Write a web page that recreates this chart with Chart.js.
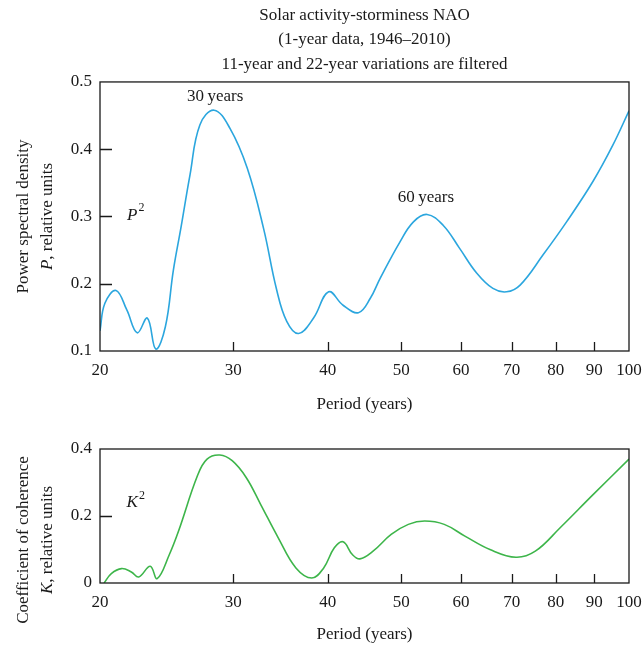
<!DOCTYPE html>
<html>
<head>
<meta charset="utf-8">
<script src="https://cdn.jsdelivr.net/npm/chart.js@4.4.0/dist/chart.umd.min.js"></script>
<style>
  html, body { margin: 0; padding: 0; background: #fff; }
  #top { position: absolute; left: 0; top: 0; width: 643px; height: 420px; }
  #bottom { position: absolute; left: 0; top: 420px; width: 643px; height: 229px; }
</style>
</head>
<body>
<div id="top"><canvas id="powerChart"></canvas></div>
<div id="bottom"><canvas id="cohChart"></canvas></div>
<script>
// shared x axis (period, log scale)
const periodTicks = [20, 30, 40, 50, 60, 70, 80, 90, 100];

// power spectral density P^2
const powerPeriods = [20.0, 20.3, 21.0, 21.7, 22.4, 23.1, 23.7, 24.4, 25.0, 25.6, 26.3, 27.1, 28.3, 29.7, 31.3, 32.9, 34.2, 35.3, 36.6, 38.3, 40.1, 41.9, 43.9, 45.5, 46.9, 49.8, 51.9, 54.1, 56.8, 59.7, 62.9, 66.1, 68.9, 71.8, 77.0, 82.7, 89.6, 95.2, 100];
const powerValues = [0.130, 0.171, 0.190, 0.161, 0.127, 0.149, 0.103, 0.136, 0.220, 0.285, 0.362, 0.436, 0.458, 0.431, 0.372, 0.282, 0.193, 0.144, 0.126, 0.149, 0.188, 0.168, 0.157, 0.178, 0.208, 0.262, 0.292, 0.303, 0.287, 0.253, 0.216, 0.193, 0.188, 0.198, 0.243, 0.292, 0.352, 0.406, 0.457];
const powerTicks = [0.1, 0.2, 0.3, 0.4, 0.5];

// coefficient of coherence K^2
const cohPeriods = [20.25, 20.7, 21.35, 22.0, 22.5, 23.3, 23.8, 24.7, 25.4, 26.9, 27.7, 28.8, 29.9, 31.2, 32.6, 34.4, 36.3, 38.1, 39.5, 40.8, 41.9, 43.1, 44.1, 45.9, 48.5, 51.1, 53.7, 57.0, 60.7, 65.5, 70.9, 75.2, 81.1, 89.3, 100];
const cohValues = [0.0, 0.028, 0.043, 0.033, 0.018, 0.05, 0.013, 0.085, 0.155, 0.32, 0.37, 0.382, 0.365, 0.315, 0.235, 0.135, 0.045, 0.015, 0.045, 0.105, 0.123, 0.085, 0.072, 0.095, 0.145, 0.175, 0.185, 0.175, 0.14, 0.10, 0.077, 0.095, 0.165, 0.26, 0.37];
const cohTicks = [0, 0.2, 0.4];

const FONT = '"Liberation Serif", "DejaVu Serif", serif';
const INK = '#1a1a1a';

// draw a line of mixed regular / italic / superscript text centred on (cx, cy)
function drawRich(ctx, parts, cx, cy, rotate) {
  ctx.save();
  ctx.translate(cx, cy);
  if (rotate) ctx.rotate(-Math.PI / 2);
  ctx.textBaseline = 'middle';
  ctx.textAlign = 'left';
  ctx.fillStyle = INK;
  const fontOf = p => (p.i ? 'italic ' : '') + (p.sup ? '12px ' : '17px ') + FONT;
  let total = 0;
  parts.forEach(p => { ctx.font = fontOf(p); total += ctx.measureText(p.t).width + (p.sup ? 1 : 0); });
  let xx = -total / 2;
  parts.forEach(p => {
    ctx.font = fontOf(p);
    if (p.sup) xx += 1;
    ctx.fillText(p.t, xx, p.sup ? -7 : 0);
    xx += ctx.measureText(p.t).width;
  });
  ctx.restore();
}

// frame, inward tick marks, y titles and notes
const decor = {
  id: 'decor',
  afterDraw(chart, args, opts) {
    const { ctx, chartArea: a, scales: { x, y } } = chart;
    ctx.save();
    ctx.strokeStyle = INK;
    ctx.lineWidth = 1.3;
    ctx.strokeRect(a.left, a.top, a.right - a.left, a.bottom - a.top);
    ctx.beginPath();
    x.ticks.forEach(t => {
      if (t.value > x.min && t.value < x.max) {
        const px = Math.round(x.getPixelForValue(t.value)) + 0.5;
        ctx.moveTo(px, a.bottom);
        ctx.lineTo(px, a.bottom - 9);
      }
    });
    y.ticks.forEach(t => {
      if (t.value > y.min && t.value < y.max) {
        const py = Math.round(y.getPixelForValue(t.value)) + 0.5;
        ctx.moveTo(a.left, py);
        ctx.lineTo(a.left + 12, py);
      }
    });
    ctx.stroke();
    ctx.restore();

    const midY = (a.top + a.bottom) / 2 + (opts.titleShift || 0);
    drawRich(ctx, opts.yTitle[0], a.left - 76, midY, true);
    drawRich(ctx, opts.yTitle[1], a.left - 52, midY, true);
    opts.notes.forEach(n => drawRich(ctx, n.parts, x.getPixelForValue(n.x), y.getPixelForValue(n.y), false));
  }
};

function buildChart(canvasId, periods, values, color, yTicks, xHeight, xTitlePad, top, extra) {
  return new Chart(document.getElementById(canvasId), {
    type: 'line',
    data: {
      datasets: [{
        data: periods.map((p, i) => ({ x: p, y: values[i] })),
        borderColor: color,
        borderWidth: 1.6,
        pointRadius: 0,
        fill: false,
        tension: 0.4
      }]
    },
    options: {
      responsive: true,
      maintainAspectRatio: false,
      animation: false,
      layout: { padding: { left: 0, right: 14, top: top, bottom: 0 } },
      scales: {
        x: {
          type: 'logarithmic',
          min: 20,
          max: 100,
          afterBuildTicks: s => { s.ticks = periodTicks.map(v => ({ value: v })); },
          afterFit: s => { s.height = xHeight; s.paddingRight = 0; s.paddingLeft = 0; },
          grid: { display: false, drawTicks: false },
          border: { display: false },
          ticks: {
            autoSkip: false, maxRotation: 0, padding: 9, color: INK,
            font: { family: FONT, size: 17 },
            callback: v => String(v)
          },
          title: {
            display: true, text: 'Period (years)', color: INK,
            font: { family: FONT, size: 17 },
            padding: { top: 0, bottom: xTitlePad }
          }
        },
        y: {
          min: yTicks[0],
          max: yTicks[yTicks.length - 1],
          afterBuildTicks: s => { s.ticks = yTicks.map(v => ({ value: v })); },
          afterFit: s => { s.width = 100; },
          grid: { display: false, drawTicks: false },
          border: { display: false },
          ticks: {
            padding: 8, color: INK,
            font: { family: FONT, size: 17 },
            callback: v => String(v)
          }
        }
      },
      plugins: extra
    },
    plugins: [decor]
  });
}

buildChart('powerChart', powerPeriods, powerValues, '#2ba6de', powerTicks, 69, 5, 0, {
  legend: { display: false },
  tooltip: { enabled: false },
  title: {
    display: true,
    fullSize: false,
    text: ['Solar activity-storminess NAO', '(1-year data, 1946\u20132010)', '11-year and 22-year variations are filtered'],
    color: INK,
    font: { family: FONT, size: 17, weight: 'normal', lineHeight: 1.45 },
    padding: { top: 3, bottom: 5 }
  },
  decor: {
    yTitle: [[{ t: 'Power spectral density' }], [{ t: 'P', i: true }, { t: ', relative units' }]],
    notes: [
      { x: 28.4, y: 0.478, parts: [{ t: '30\u2009years' }] },
      { x: 53.9, y: 0.328, parts: [{ t: '60\u2009years' }] },
      { x: 22.3, y: 0.302, parts: [{ t: 'P', i: true }, { t: '2', sup: true }] }
    ]
  }
});

buildChart('cohChart', cohPeriods, cohValues, '#3db54a', cohTicks, 66, 4, 29, {
  legend: { display: false },
  tooltip: { enabled: false },
  decor: {
    titleShift: 24,
    yTitle: [[{ t: 'Coefficient of coherence' }], [{ t: 'K', i: true }, { t: ', relative units' }]],
    notes: [
      { x: 22.3, y: 0.239, parts: [{ t: 'K', i: true }, { t: '2', sup: true }] }
    ]
  }
});
</script>
</body>
</html>
